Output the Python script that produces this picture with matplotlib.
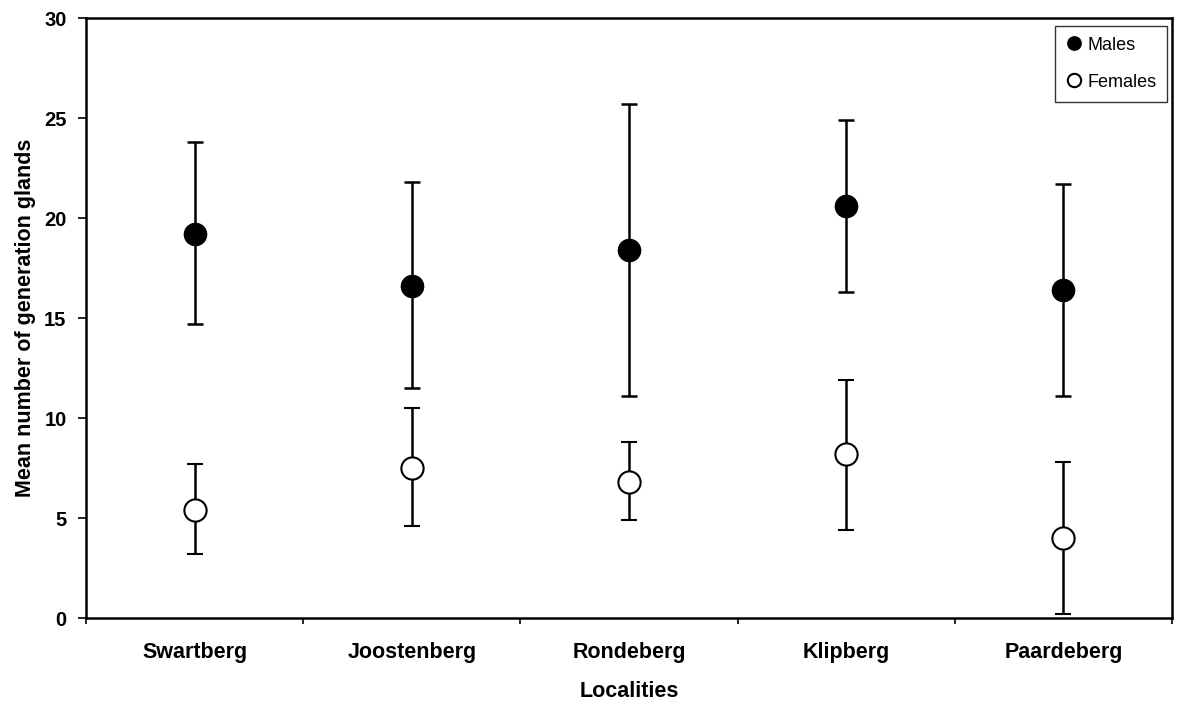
import matplotlib.pyplot as plt
import numpy as np

localities = ["Swartberg", "Joostenberg", "Rondeberg", "Klipberg", "Paardeberg"]

males_mean = [19.2, 16.6, 18.4, 20.6, 16.4]
males_low = [14.7, 11.5, 11.1, 16.3, 11.1]
males_high = [23.8, 21.8, 25.7, 24.9, 21.7]

females_mean = [5.4, 7.5, 6.8, 8.2, 4.0]
females_low = [3.2, 4.6, 4.9, 4.4, 0.2]
females_high = [7.7, 10.5, 8.8, 11.9, 7.8]

plt.rcParams["font.family"] = ["Liberation Sans", "DejaVu Sans"]

fig = plt.figure(figsize=(11.78, 7.07), dpi=100)
ax = fig.add_axes([86 / 1178, 1 - 618 / 707, (1172 - 86) / 1178, (618 - 18) / 707])

x = np.arange(len(localities)) + 0.5

m = np.array(males_mean)
f = np.array(females_mean)
ax.errorbar(x, m, yerr=[m - np.array(males_low), np.array(males_high) - m],
            fmt="o", color="black", ms=16, mfc="black", mec="black",
            elinewidth=1.8, capsize=5.5, capthick=1.8, label="Males")
ax.errorbar(x, f, yerr=[f - np.array(females_low), np.array(females_high) - f],
            fmt="o", color="black", ms=16, mfc="white", mec="black", mew=1.5,
            elinewidth=1.8, capsize=5.5, capthick=1.8, label="Females")

ax.set_xlim(0, 5)
ax.set_ylim(0, 30)
ax.set_yticks(range(0, 31, 5))
ax.set_xticks(range(0, 6))
ax.set_xticklabels([])
ax.set_xticks(x, minor=True)
ax.set_xticklabels(localities, minor=True, fontsize=15.5, fontweight="bold")
ax.tick_params(axis="x", which="minor", length=0, pad=17)
ax.tick_params(axis="x", which="major", direction="out", length=4, width=1.2)
ax.tick_params(axis="y", direction="out", length=6, width=1.2, labelsize=14.5, pad=8)
for lbl in ax.get_yticklabels():
    lbl.set_fontweight("bold")
for s in ax.spines.values():
    s.set_linewidth(1.8)

ax.set_xlabel("Localities", fontsize=15.5, fontweight="bold", labelpad=13)
ax.set_ylabel("Mean number of generation glands", fontsize=15.5, fontweight="bold", labelpad=6)

handles, labels = ax.get_legend_handles_labels()
handles = [h[0] for h in handles]
leg = ax.legend(handles, labels, loc="upper right", fontsize=13, frameon=True,
                fancybox=False, edgecolor="black", markerscale=0.6,
                handletextpad=0.3, handlelength=0.9, borderpad=0.6,
                labelspacing=1.1, borderaxespad=0,
                bbox_to_anchor=(0.9954, 0.9867))
leg.get_frame().set_linewidth(1.0)

fig.savefig("out.png", dpi=100)
